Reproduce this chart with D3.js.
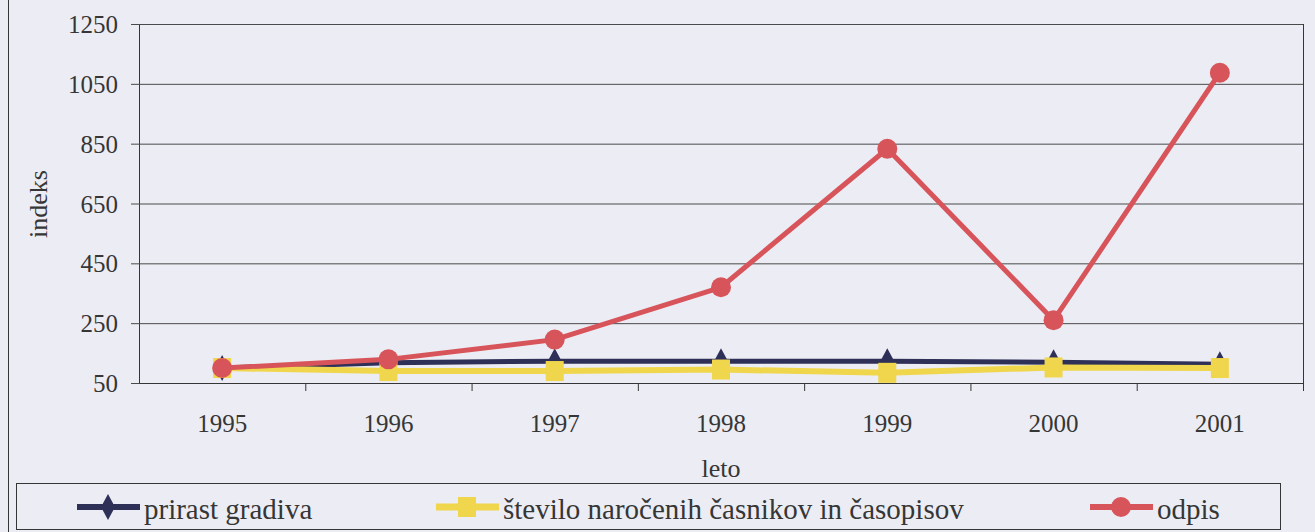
<!DOCTYPE html>
<html>
<head>
<meta charset="utf-8">
<script src="https://cdn.jsdelivr.net/npm/d3@7"></script>
</head>
<body style="margin:0; background:#ecedf4">
<svg width="1315" height="532"></svg>
<script>
// x: leto, y: indeks
const years = ["1995", "1996", "1997", "1998", "1999", "2000", "2001"];
const prirast = [100, 118, 123, 123, 123, 119, 113];
const stevilo = [100, 90, 90, 95, 84, 102, 100];
const odpis = [100, 129, 195, 370, 833, 260, 1087];
const yTicks = [50, 250, 450, 650, 850, 1050, 1250];

const width = 1315;
const height = 532;
const plotLeft = 139, plotRight = 1303, plotTop = 24, plotBottom = 383;

const ink = "#363636";

function serifText(sel, size) {
  sel.attr("font-family", null)
     .attr("font-size", null)
     .style("font-family", "'Times New Roman', 'Liberation Serif', Tinos, serif", "important")
     .style("font-size", size + "px", "important");
}

// Scales
const xScale = d3.scaleBand()
    .domain(years)
    .range([plotLeft, plotRight]);

const cx = d => xScale(d) + xScale.bandwidth() / 2;

const yScale = d3.scaleLinear()
    .domain([50, 1250])
    .range([plotBottom, plotTop]);

// Setup
const svg = d3.select("svg");

// outer frame line on the left
svg.append("line")
    .attr("x1", 8.5).attr("x2", 8.5)
    .attr("y1", 0).attr("y2", height)
    .attr("stroke", ink).attr("stroke-width", 1);

// y axis with gridlines
const yAxis = d3.axisLeft(yScale)
    .tickValues(yTicks)
    .tickFormat(d3.format("d"))
    .tickSize(-(plotRight - plotLeft))
    .tickSizeOuter(0);

const gy = svg.append("g")
    .attr("transform", `translate(${plotLeft}, 0)`)
    .call(yAxis);
gy.attr("font-family", null).attr("font-size", null);
gy.select(".domain").attr("stroke", ink);
gy.selectAll(".tick line")
    .attr("stroke", "#4a4a4a")
    .attr("x1", -8);
gy.selectAll(".tick text")
    .attr("x", -21)
    .attr("dy", "0.34em")
    .attr("fill", ink)
    .call(serifText, 25);

// right border
svg.append("line")
    .attr("x1", plotRight + 0.5).attr("x2", plotRight + 0.5)
    .attr("y1", plotTop).attr("y2", plotBottom + 8)
    .attr("stroke", ink);

// x axis: ticks between categories
const xAxis = d3.axisBottom(xScale)
    .tickSize(0);

const gx = svg.append("g")
    .attr("transform", `translate(0, ${plotBottom})`)
    .call(xAxis);
gx.attr("font-family", null).attr("font-size", null);
gx.select(".domain").attr("stroke", ink);
gx.selectAll(".tick text")
    .attr("y", 49)
    .attr("dy", 0)
    .attr("fill", ink)
    .call(serifText, 25);

gx.selectAll(".sep")
  .data(years.slice(1))
  .enter()
  .append("line")
    .attr("x1", d => xScale(d) + 0.5)
    .attr("x2", d => xScale(d) + 0.5)
    .attr("y1", 0)
    .attr("y2", 8)
    .attr("stroke", ink);

// axis titles
svg.append("text")
    .text("indeks")
    .attr("fill", ink)
    .attr("text-anchor", "middle")
    .call(serifText, 26)
    .attr("transform", `translate(47, 204) rotate(-90)`);

svg.append("text")
    .text("leto")
    .attr("fill", ink)
    .attr("text-anchor", "middle")
    .call(serifText, 26)
    .attr("x", cx("1998"))
    .attr("y", 477);

// series
const series = [
  { name: "prirast gradiva", values: prirast, color: "#2f3058", width: 5, marker: "diamond" },
  { name: "število naročenih časnikov in časopisov", values: stevilo, color: "#efd64c", width: 6, marker: "square" },
  { name: "odpis", values: odpis, color: "#d8545b", width: 5, marker: "circle" }
];

const line = d3.line()
    .x((d, i) => cx(years[i]))
    .y(d => yScale(d));

function drawMarker(g, type, color) {
  if (type === "diamond") {
    g.append("path").attr("d", "M0,-13 L7,0 L0,13 L-7,0 Z").attr("fill", color);
  } else if (type === "square") {
    g.append("rect").attr("x", -9).attr("y", -10).attr("width", 18).attr("height", 20).attr("fill", color);
  } else {
    g.append("circle").attr("r", 10).attr("fill", color);
  }
}

series.forEach(s => {
  const g = svg.append("g");
  g.append("path")
      .datum(s.values)
      .attr("d", line)
      .attr("fill", "none")
      .attr("stroke", s.color)
      .attr("stroke-width", s.width)
      .attr("stroke-linejoin", "round");
  g.selectAll(".m")
    .data(s.values)
    .enter()
    .append("g")
      .attr("transform", (d, i) => `translate(${cx(years[i])}, ${yScale(d)})`)
      .each(function() { drawMarker(d3.select(this), s.marker, s.color); });
});

// legend
const legend = svg.append("g");
legend.append("rect")
    .attr("x", 16.5).attr("y", 483.5)
    .attr("width", 1264).attr("height", 46)
    .attr("fill", "none")
    .attr("stroke", ink);

const legendX = [77, 436, 1090];
series.forEach((s, i) => {
  const g = legend.append("g").attr("transform", `translate(${legendX[i]}, 507)`);
  g.append("line")
      .attr("x1", 0).attr("x2", 63)
      .attr("stroke", s.color)
      .attr("stroke-width", s.width + 1);
  const m = g.append("g").attr("transform", "translate(31, 0)");
  drawMarker(m, s.marker, s.color);
  g.append("text")
      .text(s.name)
      .attr("x", 67)
      .attr("y", 12)
      .attr("fill", ink)
      .call(serifText, 29);
});
</script>
</body>
</html>
